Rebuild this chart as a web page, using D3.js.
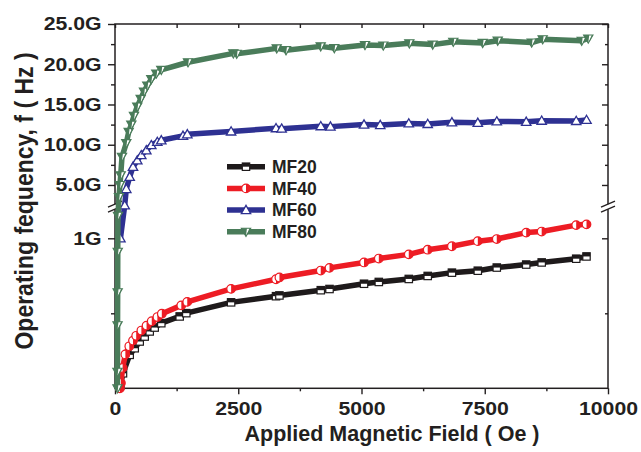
<!DOCTYPE html>
<html>
<head>
<meta charset="utf-8">
<script src="https://cdn.jsdelivr.net/npm/d3@7"></script>
<style>
  body { margin: 0; background: #ffffff; }
  text { font-family: "Liberation Sans", Arial, sans-serif; font-weight: bold; fill: #231f20; }
</style>
</head>
<body>
<svg id="chart" width="641" height="452"></svg>
<script>
// ---- data (field in Oe, frequency in GHz) ----
const seriesNames = ["MF20", "MF40", "MF60", "MF80"];

const fieldMF20 = [110, 162, 298, 400, 501, 602, 704, 805, 939, 1312, 1446,
  2355, 3266, 3335, 4174, 4351, 5051, 5351, 5959, 6343, 6834, 7359, 7744, 8341, 8655, 9355, 9564];
const freqMF20 = [0.02, 0.10, 0.223, 0.267, 0.312, 0.345, 0.379, 0.405, 0.434, 0.479, 0.501,
  0.573, 0.614, 0.619, 0.654, 0.662, 0.697, 0.709, 0.729, 0.749, 0.771, 0.784, 0.805, 0.825, 0.839, 0.864, 0.879];

const fieldMF40 = [100, 120, 155, 210, 290, 365, 430, 535, 640, 745, 860, 950, 1345, 1465,
  2355, 3266, 3335, 4174, 4351, 5051, 5351, 5959, 6343, 6834, 7359, 7744, 8341, 8655, 9355, 9564];
const freqMF40 = [0.0, 0.035, 0.136, 0.226, 0.28, 0.318, 0.35, 0.385, 0.418, 0.447, 0.475, 0.497, 0.553, 0.576,
  0.663, 0.727, 0.739, 0.785, 0.803, 0.839, 0.865, 0.893, 0.924, 0.947, 0.981, 0.995, 1.038, 1.045, 1.088, 1.093];

const fieldMF60 = [110, 197, 229, 298, 365, 452, 533, 635, 736, 858, 939, 1379, 1467,
  2355, 3266, 3380, 4174, 4370, 5051, 5380, 5959, 6343, 6834, 7359, 7744, 8341, 8655, 9355, 9564];
const freqMF60 = [1.0, 2.4, 4.5, 6.0, 7.25, 8.05, 8.7, 9.3, 9.95, 10.35, 10.55, 11.1, 11.3,
  11.65, 12.05, 12.0, 12.3, 12.25, 12.5, 12.45, 12.65, 12.58, 12.78, 12.72, 12.9, 12.85, 12.98, 12.95, 13.08];

const fieldMF80 = [50, 50, 52, 54, 56, 60, 80, 100, 116, 142, 229, 278, 331, 385, 452, 521, 588, 655, 736, 838, 939, 1481,
  2400, 2469, 3280, 3469, 4172, 4448, 5071, 5442, 5970, 6444, 6862, 7458, 7763, 8452, 8675, 9467, 9600];
const freqMF80 = [0, 0.11, 0.42, 0.64, 0.91, 1.15, 3.5, 5.0, 6.2, 8.5, 10.2, 11.6, 12.5, 13.6, 14.75, 15.7, 16.6, 17.35, 18.15, 18.85, 19.3, 20.25,
  21.35, 21.3, 21.97, 21.75, 22.22, 22.0, 22.39, 22.33, 22.6, 22.44, 22.8, 22.65, 22.93, 22.7, 23.1, 22.92, 23.2];

const seriesColors = ["#1e1a1b", "#ed1c24", "#2e3192", "#4a7c5a"];
const seriesMarkers = ["squareHalf", "circleHalf", "triUp", "triDownHalf"];

// ---- axes ticks ----
const xTickValues = [0, 2500, 5000, 7500, 10000];
const xMinorTicks = [1250, 3750, 6250, 8750];
const yTickValues = [1, 5, 10, 15, 20, 25];
const yTickLabels = ["1G", "5.0G", "10.0G", "15.0G", "20.0G", "25.0G"];
const yMinorTicks = [0.5, 7.5, 12.5, 17.5, 22.5];

const series = seriesNames.map((name, i) => {
  const fields = [fieldMF20, fieldMF40, fieldMF60, fieldMF80][i];
  const freqs = [freqMF20, freqMF40, freqMF60, freqMF80][i];
  return { name, color: seriesColors[i], marker: seriesMarkers[i],
           points: fields.map((h, j) => ({ h, f: freqs[j] })) };
});

const svg = d3.select("#chart");
const plotLeft = 115, plotRight = 608, plotTop = 24, plotBottom = 388.3;

// x: linear field axis; y: broken axis, lower part 0–1.2 G, upper part 2.5–25 G
const x = d3.scaleLinear().domain([0, 10000]).range([plotLeft, plotRight]);
const y = d3.scaleLinear().domain([0, 1.2, 2.5, 25]).range([plotBottom, 208.3, 205.1, plotTop]);

// frame
svg.append("rect").attr("x", plotLeft).attr("y", plotTop).attr("width", plotRight - plotLeft).attr("height", plotBottom - plotTop)
  .attr("fill", "none").attr("stroke", "#231f20").attr("stroke-width", 1.5);

const tickStretch = 1.18;
function styleAxis(g) {
  g.select(".domain").remove();
  g.selectAll(".tick line").attr("stroke", "#231f20").attr("stroke-width", 1.4);
  g.selectAll(".tick text").attr("fill", "#231f20").style("font-size", "18px")
    .style("font-family", "'Liberation Sans', Arial, sans-serif").style("font-weight", "bold")
    .each(function () {
      const t = d3.select(this);
      const tx = +t.attr("x") || 0;
      t.attr("x", 0).attr("transform", `translate(${tx},0) scale(${tickStretch},1)`);
    });
}

// bottom axis
svg.append("g").attr("transform", `translate(0,${plotBottom})`)
  .call(d3.axisBottom(x).tickValues(xTickValues).tickFormat(d3.format("d")).tickSize(6).tickPadding(7.5))
  .call(styleAxis);
svg.append("g").attr("transform", `translate(0,${plotBottom})`)
  .call(d3.axisBottom(x).tickValues(xMinorTicks).tickFormat("").tickSize(3))
  .call(styleAxis);
// top axis (inward ticks)
svg.append("g").attr("transform", `translate(0,${plotTop})`)
  .call(d3.axisBottom(x).tickValues(xTickValues.concat(xMinorTicks)).tickFormat("").tickSize(4))
  .call(styleAxis);

// left axis
svg.append("g").attr("transform", `translate(${plotLeft},0)`)
  .call(d3.axisLeft(y).tickValues(yTickValues).tickFormat((d, i) => yTickLabels[i]).tickSize(7).tickPadding(6.5))
  .call(styleAxis);
svg.append("g").attr("transform", `translate(${plotLeft},0)`)
  .call(d3.axisLeft(y).tickValues(yMinorTicks).tickFormat("").tickSize(4))
  .call(styleAxis);
// right axis (inward ticks)
svg.append("g").attr("transform", `translate(${plotRight},0)`)
  .call(d3.axisLeft(y).tickValues(yTickValues).tickFormat("").tickSize(6))
  .call(styleAxis);
svg.append("g").attr("transform", `translate(${plotRight},0)`)
  .call(d3.axisLeft(y).tickValues(yMinorTicks).tickFormat("").tickSize(3))
  .call(styleAxis);

// axis break marks
[plotLeft, plotRight].forEach(ax => {
  const yb = (y(1.2) + y(2.5)) / 2;
  svg.append("rect").attr("x", ax - 3).attr("y", yb - 2.5).attr("width", 6).attr("height", 5).attr("fill", "#fff");
  [-2.5, 2.5].forEach(o => {
    svg.append("line").attr("x1", ax - 7).attr("y1", yb + o + 3).attr("x2", ax + 7).attr("y2", yb + o - 3)
      .attr("stroke", "#231f20").attr("stroke-width", 1.3);
  });
});

// axis titles
svg.append("text").attr("x", 392).attr("y", 441).attr("text-anchor", "middle")
  .style("font-size", "21.5px").text("Applied Magnetic Field ( Oe )");
svg.append("text").attr("transform", "translate(33,201) rotate(-90) scale(1,1.15)").attr("text-anchor", "middle")
  .style("font-size", "23px").text("Operating fequency, f ( Hz )");

// marker shapes
function drawMarker(g, type, color) {
  if (type === "squareHalf") {
    const s = 3.7;
    g.append("rect").attr("x", -s).attr("y", -s).attr("width", 2 * s).attr("height", 2 * s).attr("fill", "#fff");
    g.append("rect").attr("x", -s).attr("y", -s).attr("width", 2 * s).attr("height", s).attr("fill", color);
    g.append("rect").attr("x", -s).attr("y", -s).attr("width", 2 * s).attr("height", 2 * s)
      .attr("fill", "none").attr("stroke", color).attr("stroke-width", 1.2);
  } else if (type === "circleHalf") {
    const r = 4.3;
    g.append("circle").attr("r", r).attr("fill", color);
    g.append("path").attr("d", `M0,${-r}A${r},${r} 0 0 0 0,${r}Z`).attr("fill", "#fff");
    g.append("circle").attr("r", r).attr("fill", "none").attr("stroke", color).attr("stroke-width", 1.2);
  } else if (type === "triUp") {
    const h = 4.7;
    g.append("path").attr("d", `M0,${-h}L${h},${h * 0.75}L${-h},${h * 0.75}Z`)
      .attr("fill", "#fff").attr("stroke", color).attr("stroke-width", 1.3);
  } else if (type === "triDownHalf") {
    const h = 4.7;
    g.append("path").attr("d", `M0,${h}L${-h},${-h * 0.75}L${h},${-h * 0.75}Z`).attr("fill", color);
    g.append("path").attr("d", `M0,${h}L${h * 0.2},${-h * 0.75}L${h * 0.75},${-h * 0.75}Z`).attr("fill", "#fff");
    g.append("path").attr("d", `M0,${h}L${-h},${-h * 0.75}L${h},${-h * 0.75}Z`)
      .attr("fill", "none").attr("stroke", color).attr("stroke-width", 1.1);
  }
}

const line = d3.line().x(d => x(d.h)).y(d => y(d.f));

series.forEach(s => {
  svg.append("path").datum(s.points).attr("d", line)
    .attr("fill", "none").attr("stroke", s.color).attr("stroke-width", 5.5)
    .attr("stroke-linejoin", "round").attr("stroke-linecap", "round");
  svg.append("g").selectAll("g").data(s.points).join("g")
    .attr("transform", d => `translate(${x(d.h)},${y(d.f)})`)
    .each(function () { drawMarker(d3.select(this), s.marker, s.color); });
});

// legend
const legend = svg.append("g");
series.forEach((s, i) => {
  const ly = 166.7 + i * 21.7;
  legend.append("line").attr("x1", 227).attr("x2", 265).attr("y1", ly).attr("y2", ly)
    .attr("stroke", s.color).attr("stroke-width", 5.5);
  const mg = legend.append("g").attr("transform", `translate(246,${ly})`);
  drawMarker(mg, s.marker, s.color);
  legend.append("text").attr("x", 272).attr("y", ly + 6.3).style("font-size", "17.5px").text(s.name);
});
</script>
</body>
</html>
